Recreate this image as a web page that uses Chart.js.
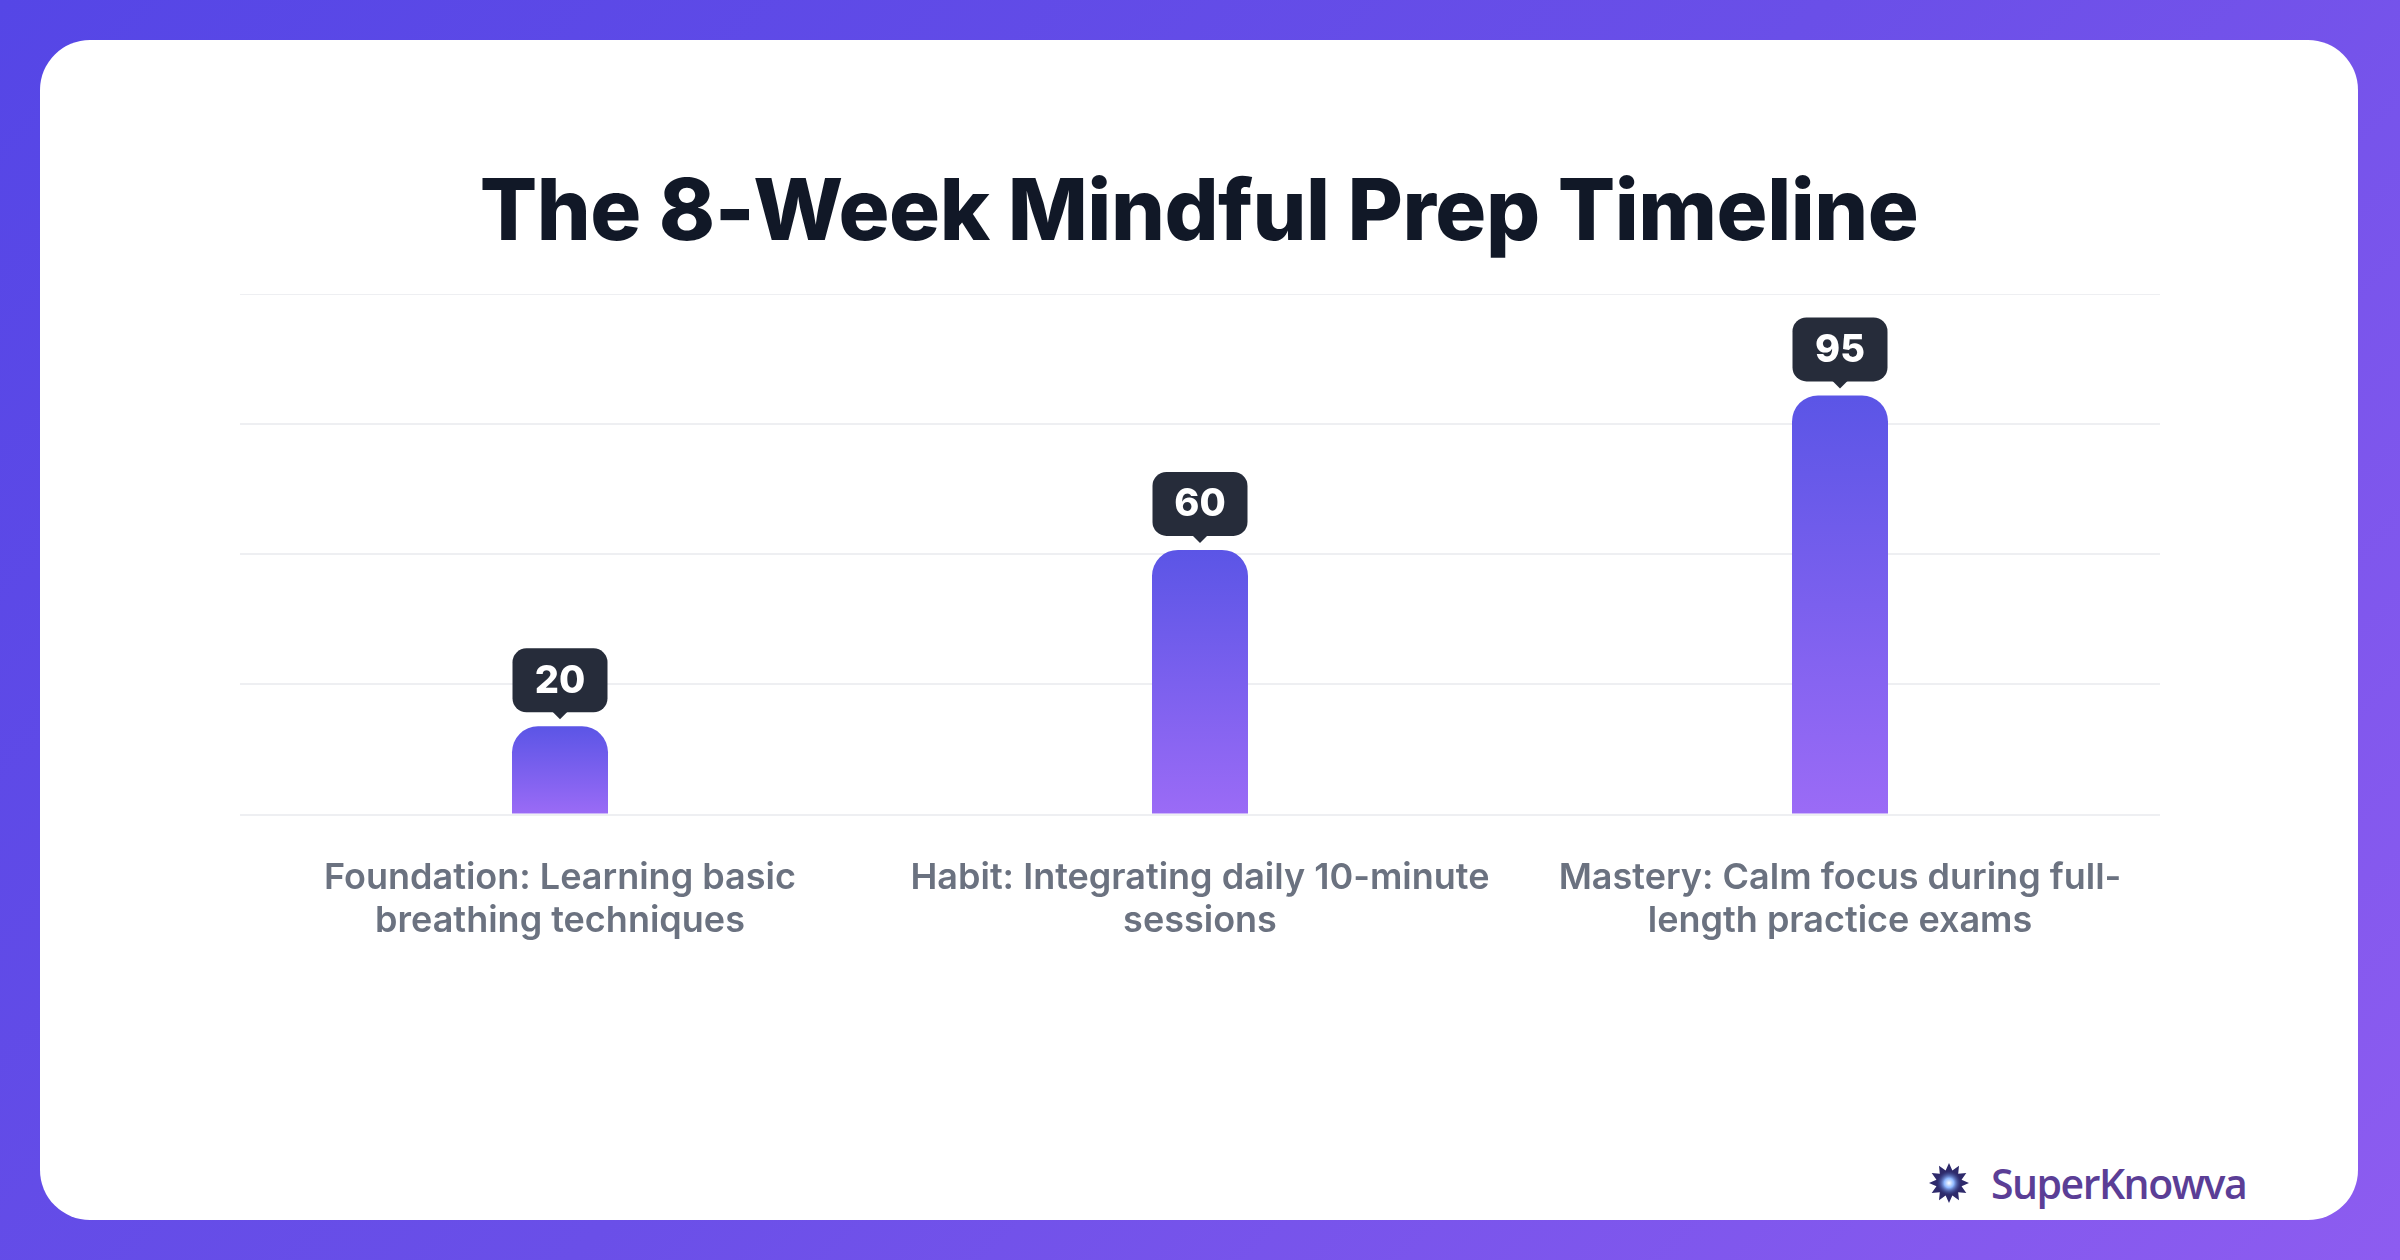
<!DOCTYPE html>
<html><head><meta charset="utf-8">
<script src="https://cdn.jsdelivr.net/npm/chart.js@4"></script>
<style>
html,body{margin:0;padding:0;width:2400px;height:1260px;overflow:hidden;font-family:Inter,sans-serif}
body{background:linear-gradient(135deg,#5546e6 0%,#6a4fe8 50%,#8d5cf0 100%)}
#card{position:absolute;left:40px;top:40px;width:2318px;height:1180px;background:#fff;border-radius:50px}
#title{position:absolute;left:40px;width:2318px;top:160px;text-align:center;font-weight:800;font-size:85px;color:#111827;line-height:100px;letter-spacing:-0.5px}
#wrap{position:absolute;left:240px;top:294px;width:1920px;height:683px}
#logo{position:absolute;left:1925px;top:1148px;height:70px;display:flex;align-items:center}
#logo span{font-family:"Open Sans",sans-serif;font-size:41px;font-weight:600;color:#5b3e96;letter-spacing:-1.5px;margin-left:18px}
</style></head><body>
<div id="card"></div>
<div id="title">The 8-Week Mindful Prep Timeline</div>
<div id="wrap"><canvas id="c"></canvas></div>
<div id="logo"><canvas id="star" width="48" height="48"></canvas><span>SuperKnowva</span></div>
<script>
const categories=[["Foundation: Learning basic","breathing techniques"],["Habit: Integrating daily 10-minute","sessions"],["Mastery: Calm focus during full-","length practice exams"]];
const values=[20,60,95];
const yMax=118, yStep=29.5;

(function(){const s=document.getElementById('star').getContext('2d');const cx=24,cy=24;
s.fillStyle='#2e2a6b';s.beginPath();for(let i=0;i<24;i++){const r=i%2?13:20;const a=i*Math.PI/12;s.lineTo(cx+r*Math.cos(a),cy+r*Math.sin(a));}s.closePath();s.fill();
const g=s.createRadialGradient(cx,cy,0,cx,cy,12);g.addColorStop(0,'#ffffff');g.addColorStop(0.4,'#8fb8ff');g.addColorStop(1,'rgba(60,80,160,0)');s.fillStyle=g;s.beginPath();s.arc(cx,cy,12,0,Math.PI*2);s.fill();})();

const labelPlugin={id:'bubbles',afterDatasetsDraw(chart){const ctx=chart.ctx;const meta=chart.getDatasetMeta(0);
meta.data.forEach((bar,i)=>{const w=95,h=64,x=bar.x,yb=bar.y-14;const top=yb-h;
ctx.save();ctx.fillStyle='#262c3a';ctx.beginPath();ctx.roundRect(x-w/2,top,w,h,14);ctx.fill();
ctx.beginPath();ctx.moveTo(x-8,yb-1);ctx.lineTo(x+8,yb-1);ctx.lineTo(x,yb+7);ctx.closePath();ctx.fill();
ctx.fillStyle='#fff';ctx.font='800 38px Inter';ctx.textAlign='center';ctx.textBaseline='middle';ctx.fillText(String(values[i]),x,top+h/2+1);ctx.restore();});}};

new Chart(document.getElementById('c'),{type:'bar',
data:{labels:categories,datasets:[{data:values,maxBarThickness:96,borderRadius:{topLeft:26,topRight:26},borderSkipped:'bottom',
backgroundColor(ctx){const ch=ctx.chart;const a=ch.chartArea;if(!a||!ch.scales.y)return '#6b5cf0';const top=ch.scales.y.getPixelForValue(ctx.raw);const g=ch.ctx.createLinearGradient(0,top,0,a.bottom);g.addColorStop(0,'#5b55e6');g.addColorStop(1,'#9b6bf6');return g;}}]},
options:{responsive:true,maintainAspectRatio:false,animation:false,
plugins:{legend:{display:false},tooltip:{enabled:false}},
layout:{padding:0},
scales:{y:{min:0,max:yMax,ticks:{display:false,stepSize:yStep},border:{display:false},grid:{color:'#eeeff2',lineWidth:2,drawTicks:false}},
x:{grid:{display:false},border:{display:false},ticks:{color:'#6b7280',font:{family:'Inter',size:36,weight:600},padding:34,maxRotation:0}}}},
plugins:[labelPlugin]});
</script></body></html>
